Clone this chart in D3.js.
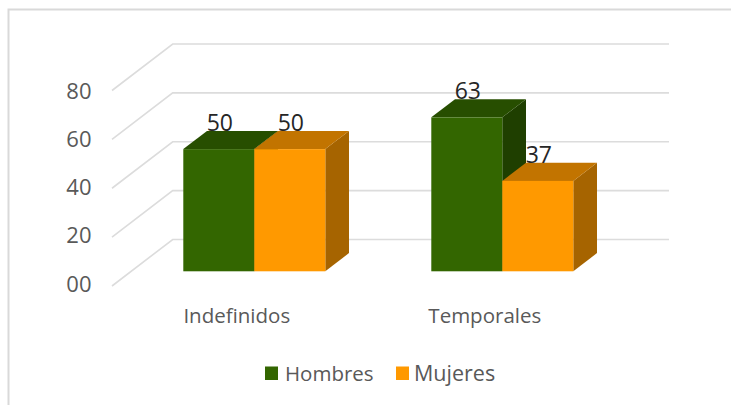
<!DOCTYPE html>
<html><head><meta charset="utf-8"><style>html,body{margin:0;padding:0;background:#fff}svg{display:block}text{font-family:"Open Sans",sans-serif}</style>
<script src="https://d3js.org/d3.v7.min.js"></script></head><body><svg id="c" width="731" height="405"></svg>
<script>
const categories = ["Indefinidos", "Temporales"];
const seriesNames = ["Hombres", "Mujeres"];
const hombres = [50, 63];
const mujeres = [50, 37];
const yTicks = [0, 20, 40, 60, 80];
const tickLabels = ["00", "20", "40", "60", "80"];
const frontColors = ["#336600", "#ff9900"];
const topColors = ["#274e00", "#c27400"];
const sideColors = ["#1f3f00", "#a66400"];
const svg = d3.select("#c");
svg.append("path").attr("d","M8.5,405V9.5H731").attr("fill","none").attr("stroke","#d9d9d9").attr("stroke-width",2);
const floorFront = 286, floorBack = 239.5, left = 112, backLeft = 172.7, right = 669;
const yBack = d3.scaleLinear().domain([0,80]).range([floorBack,44]);
const yFront = d3.scaleLinear().domain([0,80]).range([floorFront,floorFront-(floorBack-44)]);
const yBar = d3.scaleLinear().domain([0,80]).range([271.3,271.3-195.5]);
const yLabel = d3.scaleLinear().domain([0,80]).range([291.5,98.5]);
const x0 = d3.scaleBand().domain(categories).range([130.3,626.3]);
const barW = 71, dx = 23.7, dy = 18.2;
const g = svg.append("g");
const gridPts = yTicks.map(t=>[[left,yFront(t)],[backLeft,yBack(t)],[right,yBack(t)]]);
g.selectAll("path.grid").data(gridPts).join("path").attr("class","grid").attr("fill","none").attr("stroke","#dcdcdc").attr("stroke-width",1.6).attr("d",d3.line());
svg.selectAll("text.tick").data(yTicks).join("text").attr("class","tick").attr("x",91.5).attr("y",t=>yLabel(t)).attr("text-anchor","end").attr("font-size",22).attr("fill","#595959").text((t,i)=>tickLabels[i]);
const bars = [];
categories.forEach((c,i)=>{
  const x1 = d3.scaleBand().domain(seriesNames).range([x0(c)+x0.bandwidth()/2-barW, x0(c)+x0.bandwidth()/2+barW]);
  [hombres[i],mujeres[i]].forEach((v,s)=>bars.push({c,s,v,x:x1(seriesNames[s]),w:x1.bandwidth()}));
});
const pts = a=>a.map(p=>p.join(",")).join(" ");
const bg = svg.append("g");
bars.forEach(b=>{
  const t=yBar(b.v), bot=yBar(0), l=b.x, r=b.x+b.w;
  bg.append("polygon").attr("points",pts([[r,t],[r+dx,t-dy],[r+dx,bot-dy],[r,bot]])).attr("fill",sideColors[b.s]);
  bg.append("polygon").attr("points",pts([[l,t],[l+dx,t-dy],[r+dx,t-dy],[r,t]])).attr("fill",topColors[b.s]);
  bg.append("rect").attr("x",l).attr("y",t).attr("width",b.w).attr("height",bot-t).attr("fill",frontColors[b.s]);
});
svg.selectAll("text.val").data(bars).join("text").attr("class","val").attr("x",b=>b.x+b.w/2+1).attr("y",b=>yBar(b.v)-18).attr("text-anchor","middle").attr("font-size",23).attr("fill","#262626").text(b=>b.v);
svg.selectAll("text.cat").data(categories).join("text").attr("class","cat").attr("x",c=>x0(c)+x0.bandwidth()/2-17.5).attr("y",323).attr("text-anchor","middle").attr("font-size",20.5).attr("fill","#595959").text(c=>c);
const lx=[265,396], tx=[285,414], lsize=[20.5,21.5];
seriesNames.forEach((n,i)=>{
  svg.append("rect").attr("x",lx[i]).attr("y",366.5).attr("width",13).attr("height",13.5).attr("fill",frontColors[i]);
  svg.append("text").attr("x",tx[i]).attr("y",381).attr("font-size",lsize[i]).attr("fill","#595959").text(n);
});
</script></body></html>
